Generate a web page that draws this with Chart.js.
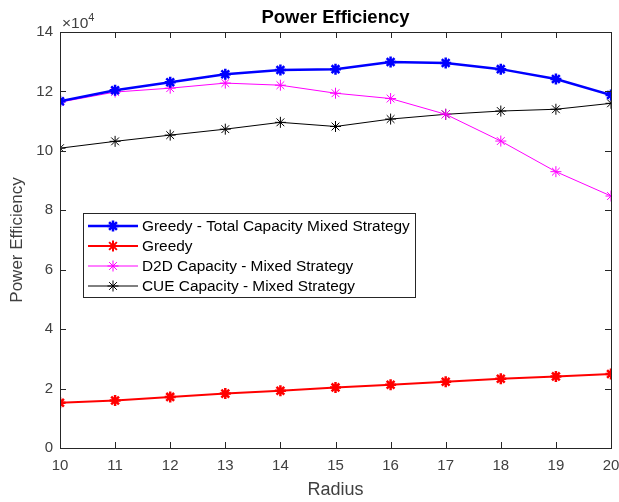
<!DOCTYPE html>
<html>
<head>
<meta charset="utf-8">
<title>Power Efficiency</title>
<script src="https://cdn.jsdelivr.net/npm/chart.js@4.4.1/dist/chart.umd.min.js"></script>
<style>
  html, body { margin: 0; padding: 0; background: #fff; }
  #wrap { width: 619px; height: 502px; }
</style>
</head>
<body>
<div id="wrap"><canvas id="pe" width="619" height="502"></canvas></div>
<script>
// --- data (values are x10^4) ---
const radius = [10, 11, 12, 13, 14, 15, 16, 17, 18, 19, 20];
const greedyTotal = [116700, 120400, 123100, 125800, 127200, 127500, 129900, 129600, 127500, 124200, 118800];
const greedy = [15200, 16000, 17200, 18300, 19300, 20400, 21300, 22300, 23300, 24100, 24900];
const d2dMixed = [116400, 119800, 121100, 122800, 122100, 119400, 117600, 112300, 103300, 93000, 84800];
const cueMixed = [100900, 103200, 105300, 107300, 109600, 108200, 110700, 112300, 113400, 114000, 116000];
const seriesNames = ['Greedy - Total Capacity Mixed Strategy', 'Greedy', 'D2D Capacity - Mixed Strategy', 'CUE Capacity - Mixed Strategy'];
const yTicks = [0, 2, 4, 6, 8, 10, 12, 14];
const chartTitle = 'Power Efficiency';

const AXIS = '#262626';
const TXT = '#404040';
const FONT = '"Liberation Sans", Arial, Helvetica, sans-serif';

const pts = arr => arr.map((v, i) => ({ x: radius[i], y: v }));

function ds(label, data, color, lw, r, bw) {
  return {
    label, data: pts(data),
    borderColor: color, backgroundColor: color,
    borderWidth: lw, pointStyle: 'star', pointRadius: r,
    pointBorderWidth: bw, pointBorderColor: color,
    pointHoverRadius: r, tension: 0, fill: false,
  };
}

// box around the axes + inward ticks, title over the axes, exponent label, legend
const matlabAxes = {
  id: 'matlabAxes',
  afterDraw(chart) {
    const { ctx, chartArea: a, scales: { x, y } } = chart;
    ctx.save();
    ctx.strokeStyle = AXIS;
    ctx.lineWidth = 1;
    ctx.strokeRect(a.left + 0.5, a.top + 0.5, a.right - a.left, a.bottom - a.top);
    const tl = 6;
    ctx.beginPath();
    radius.forEach(v => {
      const px = Math.round(x.getPixelForValue(v)) + 0.5;
      ctx.moveTo(px, a.bottom); ctx.lineTo(px, a.bottom - tl);
      ctx.moveTo(px, a.top); ctx.lineTo(px, a.top + tl);
    });
    yTicks.forEach(v => {
      const py = Math.round(y.getPixelForValue(v * 1e4)) + 0.5;
      ctx.moveTo(a.left, py); ctx.lineTo(a.left + tl, py);
      ctx.moveTo(a.right, py); ctx.lineTo(a.right - tl, py);
    });
    ctx.stroke();

    // title centred on the axes
    ctx.fillStyle = '#000';
    ctx.font = 'bold 18.5px ' + FONT;
    ctx.textAlign = 'center';
    ctx.textBaseline = 'middle';
    ctx.fillText(chartTitle, (a.left + a.right) / 2, a.top - 14);
    ctx.textAlign = 'left';

    // x10^4
    ctx.fillStyle = TXT;
    ctx.textBaseline = 'alphabetic';
    ctx.font = '15.5px ' + FONT;
    ctx.fillText('\u00d710', a.left + 2, a.top - 4);
    const w = ctx.measureText('\u00d710').width;
    ctx.font = '11px ' + FONT;
    ctx.fillText('4', a.left + 2 + w, a.top - 11);

    // legend
    const lx = a.left + 23, ly = a.top + 181, lw = 332, lh = 84;
    ctx.fillStyle = '#fff';
    ctx.fillRect(lx, ly, lw, lh);
    ctx.strokeStyle = '#262626';
    ctx.lineWidth = 1;
    ctx.strokeRect(lx + 0.5, ly + 0.5, lw, lh);
    chart.data.datasets.forEach((d, i) => {
      const cy = ly + 13 + i * 20;
      ctx.strokeStyle = d.borderColor;
      ctx.lineWidth = d.borderWidth;
      ctx.beginPath();
      ctx.moveTo(lx + 5, cy); ctx.lineTo(lx + 55, cy);
      ctx.stroke();
      Chart.helpers.drawPoint(ctx, {
        pointStyle: 'star', radius: d.pointRadius, rotation: 0,
        borderWidth: d.pointBorderWidth,
      }, lx + 30, cy);
      ctx.fillStyle = '#000';
      ctx.font = '15.4px ' + FONT;
      ctx.textBaseline = 'middle';
      ctx.fillText(seriesNames[i], lx + 59, cy + 1);
    });
    ctx.restore();
  }
};

new Chart(document.getElementById('pe'), {
  type: 'line',
  data: {
    datasets: [
      ds(seriesNames[0], greedyTotal, '#0000ff', 2.5, 5.5, 2.5),
      ds(seriesNames[1], greedy, '#ff0000', 2, 5.5, 2.5),
      ds(seriesNames[2], d2dMixed, '#ff00ff', 1, 5.5, 1),
      ds(seriesNames[3], cueMixed, '#000000', 1, 5.5, 1),
    ],
  },
  options: {
    responsive: false,
    animation: false,
    layout: { padding: { left: 0, right: 7, top: 32, bottom: 0 } },
    plugins: {
      legend: { display: false },
      tooltip: { enabled: false },
      title: { display: false },
    },
    scales: {
      x: {
        type: 'linear', min: 10, max: 20,
        afterFit: s => { s.height = 54; s.paddingLeft = 0; s.paddingRight = 0; },
        grid: { display: false, drawTicks: false },
        border: { display: false },
        ticks: { stepSize: 1, color: TXT, padding: 9, font: { family: FONT, size: 15 } },
        title: { display: true, text: 'Radius', color: TXT, padding: { top: 2, bottom: 1 }, font: { family: FONT, size: 18 } },
      },
      y: {
        min: 0, max: 140000,
        afterFit: s => { s.width = 60; s.paddingTop = 0; s.paddingBottom = 0; },
        afterBuildTicks: s => { s.ticks = yTicks.map(v => ({ value: v * 1e4 })); },
        grid: { display: false, drawTicks: false },
        border: { display: false },
        ticks: { color: TXT, padding: 7, font: { family: FONT, size: 15 }, callback: v => v / 1e4 },
        title: { display: true, text: 'Power Efficiency', color: TXT, padding: { top: 7, bottom: 4 }, font: { family: FONT, size: 17 } },
      },
    },
  },
  plugins: [matlabAxes],
});
</script>
</body>
</html>
